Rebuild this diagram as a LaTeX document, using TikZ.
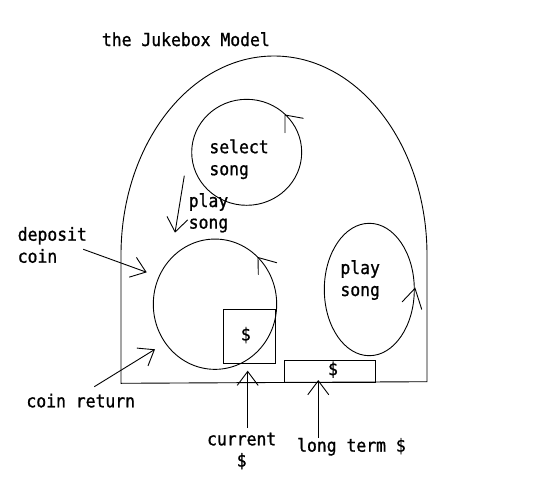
\documentclass[tikz,border=0pt]{standalone}
\usepackage{fontspec}
\newfontfamily\jbmono[FakeStretch=0.911,FakeBold=1]{DejaVu Sans Mono}
\usetikzlibrary{arrows.meta,shapes.geometric}
\begin{document}
\begin{tikzpicture}[x=1pt,y=-1pt,line width=0.9pt,
  txt/.style={font=\jbmono\fontsize{18pt}{20pt}\selectfont, inner sep=0pt},
  lbl/.style={txt, anchor=base west},
  bubble/.style={draw, ellipse, inner sep=0pt},
  box/.style={draw, rectangle, inner sep=0pt},
  conn/.style={-{Straight Barb[length=14pt,width=21pt]}},
  arm/.style={line cap=round}]
\useasboundingbox (0,0) rectangle (550,480);
% title
\node[lbl] (title) at (101.5,46) {the Jukebox Model};
% outer jukebox outline
\draw (121,383.3) -- (121,255) arc[start angle=180, end angle=0, x radius=153pt, y radius=199pt] -- (427,381.7) -- cycle;
% bubbles
\node[bubble, minimum width=110pt, minimum height=106pt] (sel) at (246.7,152.3) {};
\node[bubble, minimum width=123.4pt, minimum height=130.3pt] (big) at (215,304.2) {};
\node[bubble, minimum width=90pt, minimum height=132.4pt] (rpl) at (369.3,289.5) {};
% boxes
\node[box, minimum width=52pt, minimum height=54pt] (cur) at (249.3,336.3) {};
\node[box, minimum width=91.4pt, minimum height=22pt] (lt) at (330,371.3) {};
\node[txt] (curd) at (245.8,335) {\$};
\node[txt] (ltd) at (333,369.7) {\$};
% labels
\node[lbl] (sel1) at (209,153.2) {select};
\node[lbl] (sel2) at (209,175.2) {song};
\node[lbl] (pl1) at (188.3,207) {play};
\node[lbl] (pl2) at (188.3,228.6) {song};
\node[lbl] (rp1) at (340,274) {play};
\node[lbl] (rp2) at (340,296) {song};
\node[lbl] (dep1) at (17.3,240.7) {deposit};
\node[lbl] (dep2) at (17.3,262.7) {coin};
\node[lbl] (cr) at (26,407.3) {coin return};
\node[lbl] (cu1) at (206.7,445.3) {current};
\node[lbl] (cu2) at (236.3,466.7) {\$};
\node[lbl] (ltl) at (296.7,451.7) {long term \$};
% connector end points
\coordinate (a1) at (184.3,175.7);
\coordinate (a2) at (175,232.7);
\coordinate (d1) at (83.3,249.3);
\coordinate (d2) at (146.7,272.3);
\coordinate (c1) at (94.3,386.7);
\coordinate (c2) at (155,349.3);
\coordinate (u1) at (247.7,428);
\coordinate (u2) at (247.7,370.7);
\coordinate (l1) at (318.3,438);
\coordinate (l2) at (318.3,380);
\draw[conn] (a1) -- (a2);
\draw[conn] (d1) -- (d2);
\draw[conn] (c1) -- (c2);
\draw[conn] (u1) -- (u2);
\draw[conn] (l1) -- (l2);
% direction marks on the bubbles
\coordinate (t1) at (285,115);
\coordinate (t2) at (258,257.5);
\coordinate (t3) at (415,288.3);
\draw[arm] (285,132.7) -- (t1) -- (303.3,118.3);
\draw[arm] (258.3,274.3) -- (t2) -- (276.7,262.7);
\draw[arm] (402.3,301.7) -- (t3) -- (421.7,309.3);
\end{tikzpicture}
\end{document}
